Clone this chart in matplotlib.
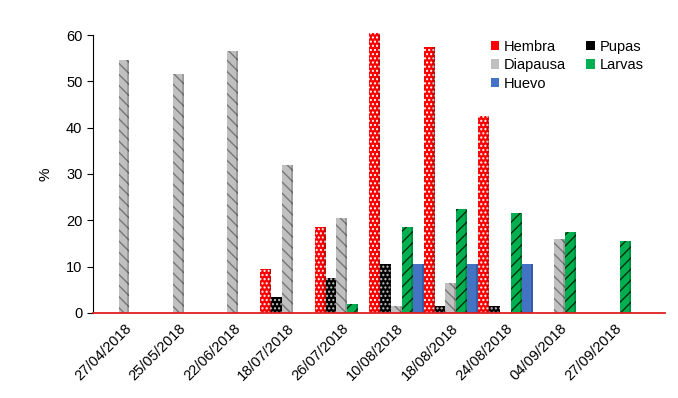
import numpy as np
import matplotlib.pyplot as plt

plt.rcParams['font.family'] = ['Liberation Sans', 'DejaVu Sans']
plt.rcParams['hatch.linewidth'] = 1.0

fechas = ['27/04/2018', '25/05/2018', '22/06/2018', '18/07/2018', '26/07/2018',
          '10/08/2018', '18/08/2018', '24/08/2018', '04/09/2018', '27/09/2018']

hembra = [0, 0, 0, 9.5, 18.5, 60.5, 57.5, 42.5, 0, 0]
pupas = [0, 0, 0, 3.5, 7.5, 10.5, 1.5, 1.5, 0, 0]
diapausa = [54.5, 51.5, 56.5, 32, 20.5, 1.5, 6.5, 0, 16, 0]
larvas = [0, 0, 0, 0, 2, 18.5, 22.5, 21.5, 17.5, 15.5]
huevo = [0, 0, 0, 0, 0, 10.5, 10.5, 10.5, 0, 0]

series = [
    ('Hembra', hembra, '#ff0000', '....', 'white'),
    ('Pupas', pupas, '#000000', '....', '#c8c8c8'),
    ('Diapausa', diapausa, '#c0c0c0', '\\\\\\', '#777777'),
    ('Larvas', larvas, '#00b050', '///', '#003010'),
    ('Huevo', huevo, '#4472c4', None, None),
]

fig = plt.figure(figsize=(6.78, 3.98), dpi=100)
ax = fig.add_axes([0.137, 0.214, 0.844, 0.698])

x = np.arange(len(fechas))
w = 0.2
handles = {}
for i, (name, vals, fc, hatch, hc) in enumerate(series):
    pos = x + (i - 2) * w
    vals = np.array(vals, dtype=float)
    b = ax.bar(pos, vals, w, color=fc, linewidth=0, label=name, clip_on=False)
    handles[name] = b
    if hatch:
        ax.bar(pos, vals, w, facecolor='none', edgecolor=hc, linewidth=0,
               hatch=hatch, clip_on=False)
    # darker right side for a slight 3D look
    ax.bar(pos + w * 0.4, vals, w * 0.2, color='black', alpha=0.18,
           linewidth=0, clip_on=False)

ax.set_xlim(-0.57, 9.93)
ax.set_ylim(0, 60)
ax.set_yticks(range(0, 61, 10))
ax.set_xticks(x)
ax.set_xticklabels(fechas, rotation=45, ha='right', rotation_mode='anchor', fontsize=10.5)
ax.tick_params(axis='x', length=0, pad=6)
ax.tick_params(axis='y', labelsize=10.5, length=4, direction='out')
ax.set_ylabel('%', fontsize=11, labelpad=10)

ax.spines['top'].set_visible(False)
ax.spines['right'].set_visible(False)
ax.spines['bottom'].set_color('#e02020')
ax.spines['bottom'].set_linewidth(1.3)
ax.spines['bottom'].set_zorder(5)
ax.spines['left'].set_color('black')

order = ['Hembra', 'Diapausa', 'Huevo', 'Pupas', 'Larvas']
ax.legend([handles[n] for n in order], order, ncol=2, frameon=False, fontsize=10.5,
          loc='upper right', bbox_to_anchor=(0.985, 1.03), handlelength=0.6,
          handleheight=0.6, handletextpad=0.3, columnspacing=1.4, labelspacing=0.3)

fig.savefig('out.png', dpi=100)
